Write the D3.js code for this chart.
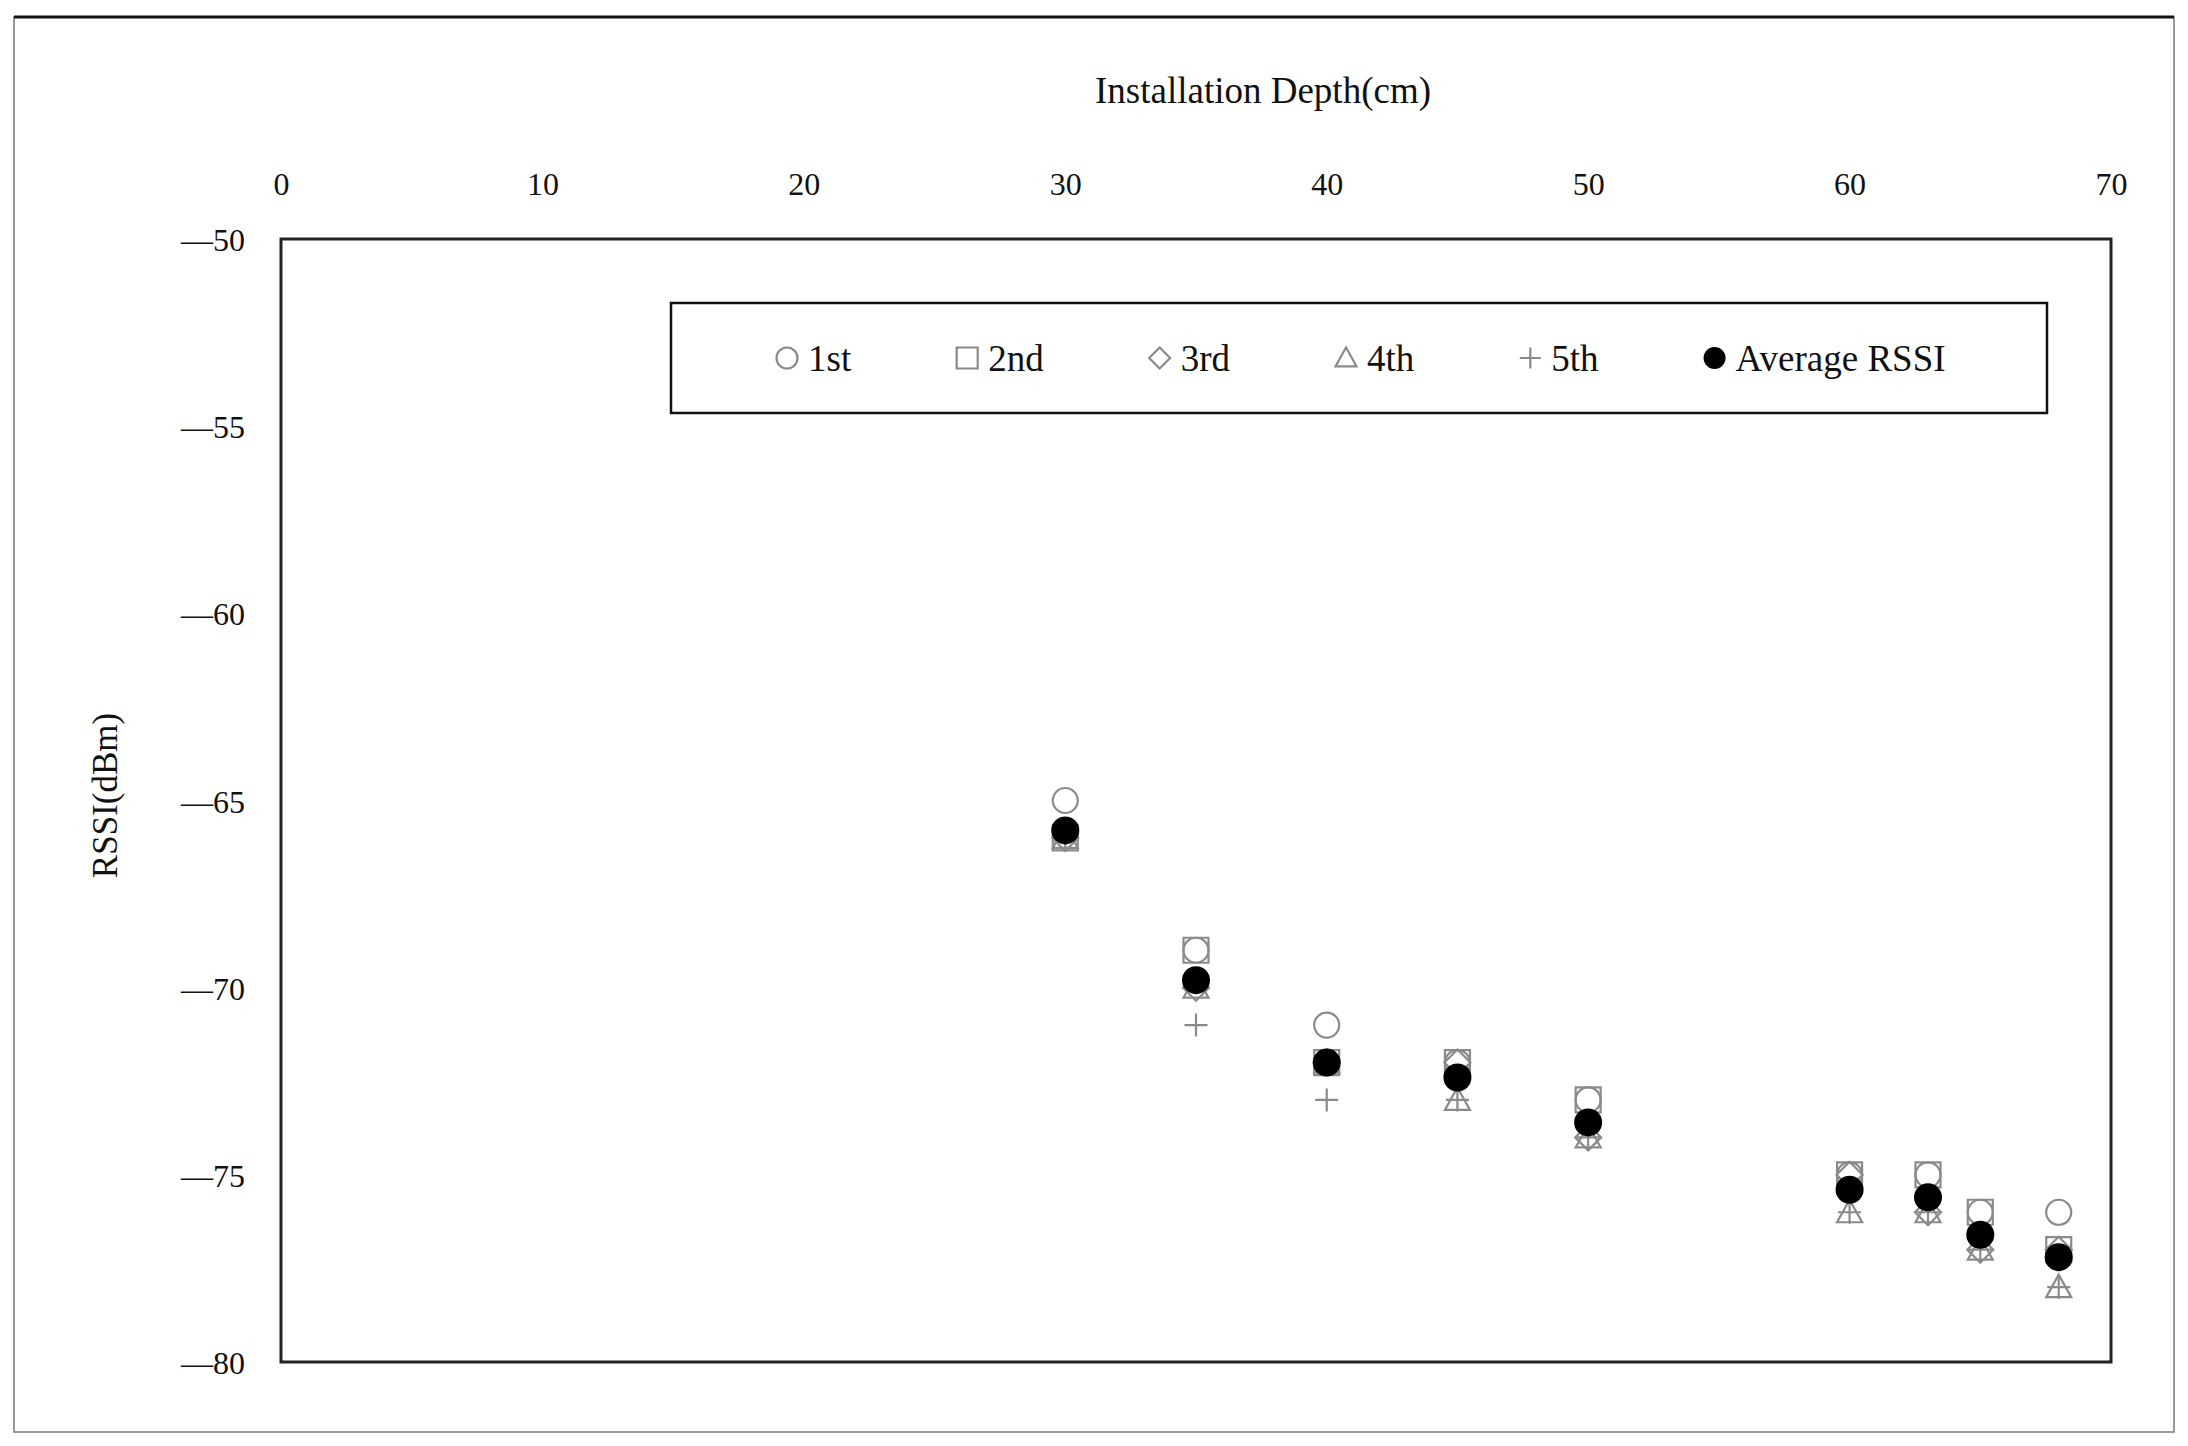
<!DOCTYPE html>
<html lang="en">
<head>
<meta charset="UTF-8" />
<title>RSSI vs Installation Depth</title>
<script src="https://d3js.org/d3.v7.min.js"></script>
<style>
  html, body { margin: 0; padding: 0; background: #fff; overflow: hidden; }
  svg { display: block; }
  text { font-family: 'Palatino Linotype', 'Book Antiqua', 'Liberation Serif', 'DejaVu Serif', serif; fill: #111; }
  .tick-label { font-size: 32px; }
  .axis-title { font-size: 37px; }
  .y-title { font-size: 35px; }
  .legend-label { font-size: 37px; }
</style>
</head>
<body>
<svg id="chart"></svg>
<script>
// installation depth (cm)
const depths = [30, 35, 40, 45, 50, 60, 63, 65, 68];
// RSSI of each measurement run (dBm)
const run1 = [-65, -69, -71, -72, -73, -75, -75, -76, -76];
const run2 = [-66, -69, -72, -72, -73, -75, -75, -76, -77];
const run3 = [-66, -70, -72, -72, -74, -75, -76, -77, -77];
const run4 = [-66, -70, -72, -73, -74, -76, -76, -77, -78];
const run5 = [-66, -71, -73, -73, -74, -76, -76, -77, -78];
const avgRssi = [-65.8, -69.8, -72.0, -72.4, -73.6, -75.4, -75.6, -76.6, -77.2];

const xTicks = [0, 10, 20, 30, 40, 50, 60, 70];
const yTicks = [-50, -55, -60, -65, -70, -75, -80];
const seriesNames = ["1st", "2nd", "3rd", "4th", "5th", "Average RSSI"];

const W = 2188, H = 1446;
const svg = d3.select("#chart").attr("width", W).attr("height", H);

const plot = { left: 281, top: 239, right: 2111, bottom: 1362 };

const x = d3.scaleLinear().domain([0, 70]).range([plot.left, plot.right]);
const y = d3.scaleLinear().domain([-50, -80]).range([plot.top, plot.bottom]);

// outer figure frame
svg.append("rect")
  .attr("x", 14).attr("y", 17).attr("width", 2160).attr("height", 1415)
  .attr("fill", "none").attr("stroke", "#777").attr("stroke-width", 1.5);
svg.append("line")
  .attr("x1", 14).attr("x2", 2174).attr("y1", 17).attr("y2", 17)
  .attr("stroke", "#111").attr("stroke-width", 3);

// plot box
svg.append("rect")
  .attr("x", plot.left).attr("y", plot.top)
  .attr("width", plot.right - plot.left).attr("height", plot.bottom - plot.top)
  .attr("fill", "none").attr("stroke", "#222").attr("stroke-width", 3);

// x axis on top, labels only
const xAxis = d3.axisTop(x).tickValues(xTicks).tickSize(0).tickPadding(0);
const gx = svg.append("g").attr("transform", `translate(0,${plot.top - 44})`).call(xAxis);
gx.select(".domain").remove();
gx.selectAll("text").attr("class", "tick-label").attr("dy", 0).attr("fill", "#111");

// y axis, labels only
const yAxis = d3.axisLeft(y).tickValues(yTicks).tickSize(0).tickPadding(36)
  .tickFormat(d => "\u2014" + Math.abs(d));
const gy = svg.append("g").attr("transform", `translate(${plot.left},0)`).call(yAxis);
gy.select(".domain").remove();
gy.selectAll("text").attr("class", "tick-label").attr("dy", "0.36em").attr("fill", "#111");

// axis titles
svg.append("text").attr("class", "axis-title")
  .attr("x", 1263).attr("y", 103).attr("text-anchor", "middle")
  .text("Installation Depth(cm)");
svg.append("text").attr("class", "y-title")
  .attr("transform", `translate(117,${(plot.top + plot.bottom) / 2 - 5}) rotate(-90)`)
  .attr("text-anchor", "middle")
  .text("RSSI(dBm)");

// marker shapes
function markerPath(type, s) {
  const p = d3.path();
  if (type === "circle" || type === "dot") {
    p.moveTo(s, 0); p.arc(0, 0, s, 0, 2 * Math.PI);
  } else if (type === "square") {
    p.rect(-s, -s, 2 * s, 2 * s);
  } else if (type === "diamond") {
    p.moveTo(0, -s); p.lineTo(s, 0); p.lineTo(0, s); p.lineTo(-s, 0); p.closePath();
  } else if (type === "triangle") {
    p.moveTo(0, -s); p.lineTo(s, s * 0.8); p.lineTo(-s, s * 0.8); p.closePath();
  } else if (type === "plus") {
    p.moveTo(-s, 0); p.lineTo(s, 0); p.moveTo(0, -s); p.lineTo(0, s);
  }
  return p.toString();
}

const series = [
  { name: seriesNames[0], values: run1, type: "circle", size: 12.5 },
  { name: seriesNames[1], values: run2, type: "square", size: 12.5 },
  { name: seriesNames[2], values: run3, type: "diamond", size: 13 },
  { name: seriesNames[3], values: run4, type: "triangle", size: 12.5 },
  { name: seriesNames[4], values: run5, type: "plus", size: 11.5 },
  { name: seriesNames[5], values: avgRssi, type: "dot", size: 14 }
];

function styleMarker(sel, type) {
  if (type === "dot") sel.attr("fill", "#000").attr("stroke", "none");
  else sel.attr("fill", "none").attr("stroke", "#8a8a8a").attr("stroke-width", 2.2);
}

series.forEach(s => {
  const pts = depths.map((d, i) => ({ x: d, y: s.values[i] }));
  svg.append("g").selectAll("path")
    .data(pts)
    .join("path")
    .attr("transform", d => `translate(${x(d.x)},${y(d.y)})`)
    .attr("d", markerPath(s.type, s.size))
    .call(styleMarker, s.type);
});

// legend
const legend = { left: 671, top: 303, width: 1376, height: 110 };
svg.append("rect")
  .attr("x", legend.left).attr("y", legend.top)
  .attr("width", legend.width).attr("height", legend.height)
  .attr("fill", "#fff").attr("stroke", "#111").attr("stroke-width", 2.5);

const legendY = legend.top + 55;
let cx = 787;
series.forEach(s => {
  const g = svg.append("g").attr("transform", `translate(${cx},${legendY})`);
  g.append("path")
    .attr("d", markerPath(s.type, s.type === "dot" ? 11 : 10.5))
    .call(styleMarker, s.type);
  const t = g.append("text").attr("class", "legend-label")
    .attr("x", 21).attr("dy", "0.35em")
    .text(s.name);
  cx += 21 + t.node().getComputedTextLength() + 116;
});
</script>
</body>
</html>
